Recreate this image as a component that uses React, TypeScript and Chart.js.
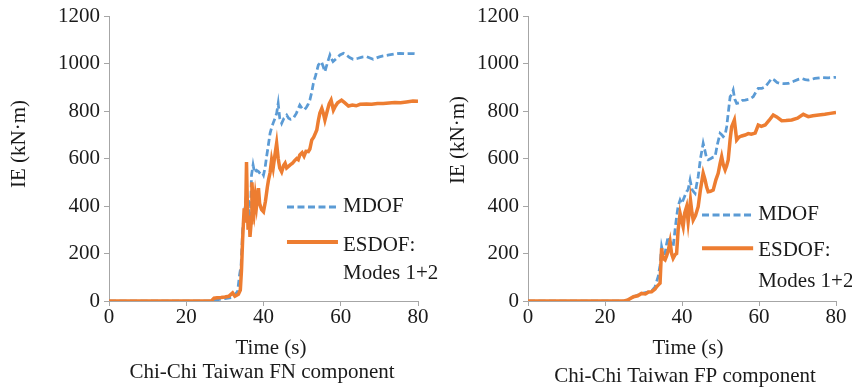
import React, { useEffect, useRef } from "react";
import { Chart, registerables } from "chart.js";

Chart.register(...registerables);

// Axis ticks
const timeTicks = [0, 20, 40, 60, 80];
const ieTicks = [0, 200, 400, 600, 800, 1000, 1200];

// Text
const xTitle = "Time (s)";
const yTitle = "IE (kN\u00b7m)";
const mdofLabel = "MDOF";
const esdofLabel = ["ESDOF:", "Modes 1+2"];
const captions = ["Chi-Chi Taiwan FN component", "Chi-Chi Taiwan FP component"];

// FN component: ESDOF (modes 1+2)
const fnEsdofTime = [0, 26.5, 27.2, 28, 29, 30, 31, 32, 32.6, 33.5, 34, 34.3, 34.6, 34.8, 35, 35.2, 35.4, 35.6, 35.8, 36, 36.3, 36.5, 36.8, 37, 37.3, 37.6, 37.9, 38.2, 38.7, 39, 39.5, 40, 40.5, 41, 41.3, 41.7, 42.1, 42.5, 43, 43.4, 43.8, 44.2, 44.7, 45.2, 45.6, 46, 46.9, 47.5, 48, 48.6, 49, 49.4, 50, 50.5, 51, 51.6, 52, 52.5, 53, 53.8, 54.2, 54.6, 55.1, 55.5, 55.9, 56.5, 57, 57.5, 58.1, 58.6, 59.2, 60.2, 61, 62, 63, 64, 65, 66.7, 68, 69.5, 71, 72.5, 74, 75.5, 77, 78.7, 80];
const fnEsdofIE = [0, 0, 12, 14, 15, 17, 20, 34, 20, 28, 46, 130, 260, 328, 390, 330, 396, 585, 420, 300, 360, 270, 330, 500, 420, 380, 440, 400, 475, 410, 385, 376, 420, 480, 510, 540, 594, 560, 620, 664, 600, 560, 544, 570, 580, 560, 573, 580, 590, 600, 595, 615, 625, 610, 630, 629, 640, 678, 690, 720, 760, 791, 811, 790, 762, 800, 830, 846, 804, 820, 835, 846, 835, 821, 825, 822, 828, 829, 828, 832, 832, 834, 836, 835, 838, 842, 841];

// FN component: MDOF
const fnMdofTime = [0, 27, 28, 30, 32, 33.3, 33.8, 34.2, 34.6, 35, 35.4, 35.8, 36.1, 36.5, 36.9, 37.3, 37.7, 38.2, 38.7, 39.2, 39.7, 40, 40.4, 40.8, 41.2, 41.7, 42.1, 42.5, 43, 43.4, 43.8, 44.2, 44.7, 45.3, 46, 46.5, 47, 47.7, 48.5, 49.4, 50, 50.6, 51.2, 51.6, 52, 52.5, 52.9, 53.5, 54.2, 55, 55.5, 55.9, 56.5, 57.2, 57.6, 58, 58.8, 59.8, 60.7, 61.5, 62.3, 63.2, 64.5, 65.5, 66.7, 68.4, 70, 71, 72.5, 74, 75.3, 77, 78.5, 80];
const fnMdofIE = [0, 0, 5, 10, 15, 40, 110, 150, 300, 360, 420, 380, 425, 300, 530, 573, 540, 550, 545, 535, 540, 530, 560, 608, 650, 706, 730, 749, 770, 790, 832, 770, 748, 770, 783, 770, 765, 769, 790, 825, 810, 805, 818, 830, 846, 880, 916, 950, 994, 1008, 985, 965, 1000, 1036, 1020, 1008, 1020, 1036, 1043, 1035, 1025, 1018, 1022, 1027, 1029, 1018, 1028, 1032, 1036, 1040, 1043, 1041, 1042, 1040];

// FP component: ESDOF (modes 1+2)
const fpEsdofTime = [0, 25, 26, 27.4, 28.5, 29.5, 30.5, 31.3, 32.1, 33, 33.4, 34, 34.3, 34.7, 35.1, 35.6, 36, 36.4, 36.9, 37.3, 37.7, 38.2, 38.6, 39, 39.5, 39.9, 40.3, 40.7, 41.2, 41.6, 42.2, 42.6, 42.9, 43.5, 44.2, 44.8, 45.5, 46, 46.4, 46.8, 47.4, 48.1, 48.8, 49.4, 49.9, 50.3, 50.7, 51.2, 51.6, 52, 52.5, 52.9, 53.3, 53.6, 53.9, 54.2, 54.8, 55.5, 56.4, 57.2, 58, 59, 59.8, 60.6, 61.6, 62.6, 63.7, 64.6, 65.9, 67, 68.5, 70, 71.5, 72.8, 74, 75.5, 77.1, 78.5, 80];
const fpEsdofIE = [0, 0, 5, 18, 22, 32, 30, 38, 39, 50, 60, 70, 75, 222, 180, 173, 190, 210, 250, 200, 180, 195, 200, 300, 369, 340, 313, 370, 397, 334, 425, 370, 341, 360, 397, 470, 538, 510, 480, 460, 462, 467, 510, 538, 580, 608, 575, 552, 570, 594, 680, 734, 750, 762, 720, 678, 690, 695, 699, 705, 702, 707, 741, 735, 741, 760, 783, 775, 759, 760, 762, 770, 786, 776, 780, 783, 786, 790, 794];

// FP component: MDOF
const fpMdofTime = [0, 25, 26, 27.5, 29, 30.5, 32.1, 33, 33.8, 34.3, 34.7, 35.1, 35.6, 36, 36.4, 36.9, 37.3, 37.7, 38.2, 38.6, 39, 39.5, 39.9, 40.3, 40.8, 41.2, 41.6, 42.1, 42.6, 43, 43.4, 43.8, 44.2, 44.8, 45.5, 46, 46.4, 46.8, 47.5, 48, 48.6, 49.2, 49.9, 50.3, 50.7, 51.2, 51.6, 52, 52.5, 52.9, 53.3, 53.7, 54.2, 55, 55.7, 56.4, 57.5, 58.5, 59.2, 59.8, 60.7, 61.6, 62.5, 63.3, 64, 64.7, 65.5, 66.5, 67.6, 69, 70.2, 71.1, 72, 72.8, 74.5, 76.3, 78, 79.3, 80];
const fpMdofIE = [0, 0, 5, 18, 28, 35, 42, 60, 102, 150, 229, 200, 200, 240, 271, 250, 240, 229, 300, 355, 400, 425, 410, 425, 445, 460, 470, 509, 470, 460, 453, 490, 523, 600, 664, 630, 600, 594, 600, 605, 608, 660, 706, 700, 692, 700, 734, 790, 860, 870, 888, 850, 832, 835, 845, 846, 850, 860, 880, 895, 895, 902, 920, 937, 930, 920, 916, 915, 916, 925, 933, 937, 932, 930, 937, 941, 940, 941, 942];

const BLUE = "#5b9bd5";
const ORANGE = "#ed7d31";
const AXIS = "#a6a6a6";
const INK = "#1a1a1a";
const FAMILY = '"Liberation Serif", "Times New Roman", Times, serif';
const FONT_SIZE = 21;
const CANVAS_H = 391;

type PanelSpec = {
  left: number;
  width: number;
  axisWidth: number;
  padRight: number;
  esdofTime: number[];
  esdofIE: number[];
  mdofTime: number[];
  mdofIE: number[];
  caption: string;
  text: {
    yTitleDx: number;
    yTitleFrac: number;
    xTitleDx: number;
    xTitleDy: number;
    captionDx: number;
    captionDy: number;
    keyX0: number;
    keyX1: number;
    keyMdofY: number;
    keyEsdofY: number;
    keyEsdofTextY: number;
    keyModesTextY: number;
  };
};

const panels: PanelSpec[] = [
  {
    left: 0,
    width: 440,
    axisWidth: 109,
    padRight: 22,
    esdofTime: fnEsdofTime,
    esdofIE: fnEsdofIE,
    mdofTime: fnMdofTime,
    mdofIE: fnMdofIE,
    caption: captions[0],
    text: {
      yTitleDx: 89.5,
      yTitleFrac: 0.449,
      xTitleDx: 7.5,
      xTitleDy: 53,
      captionDx: -1.5,
      captionDy: 77,
      keyX0: 0.576,
      keyX1: 0.741,
      keyMdofY: 0.67,
      keyEsdofY: 0.793,
      keyEsdofTextY: 0.804,
      keyModesTextY: 0.902,
    },
  },
  {
    left: 420,
    width: 432,
    axisWidth: 108,
    padRight: 16,
    esdofTime: fpEsdofTime,
    esdofIE: fpEsdofIE,
    mdofTime: fpMdofTime,
    mdofIE: fpMdofIE,
    caption: captions[1],
    text: {
      yTitleDx: 69.5,
      yTitleFrac: 0.435,
      xTitleDx: 6,
      xTitleDy: 53,
      captionDx: 3,
      captionDy: 80.5,
      keyX0: 0.565,
      keyX1: 0.731,
      keyMdofY: 0.698,
      keyEsdofY: 0.815,
      keyEsdofTextY: 0.823,
      keyModesTextY: 0.932,
    },
  },
];

// Axis titles, caption and the in-plot key
const panelText = {
  id: "panelText",
  afterDraw(chart: any, _args: any, opts: any) {
    const { ctx, chartArea: a } = chart;
    const t = opts.text;
    ctx.save();
    ctx.font = `${FONT_SIZE}px ${FAMILY}`;
    ctx.fillStyle = INK;

    // y-axis title
    ctx.save();
    ctx.translate(a.left - t.yTitleDx, a.top + (a.bottom - a.top) * t.yTitleFrac);
    ctx.rotate(-Math.PI / 2);
    ctx.textAlign = "center";
    ctx.textBaseline = "middle";
    ctx.fillText(yTitle, 0, 0);
    ctx.restore();

    // x-axis title and caption
    const cx = (a.left + a.right) / 2;
    ctx.textAlign = "center";
    ctx.textBaseline = "alphabetic";
    ctx.fillText(xTitle, cx + t.xTitleDx, a.bottom + t.xTitleDy);
    ctx.fillText(opts.caption, cx + t.captionDx, a.bottom + t.captionDy);

    // key
    const w = a.right - a.left;
    const h = a.bottom - a.top;
    const x0 = a.left + w * t.keyX0;
    const x1 = a.left + w * t.keyX1;
    const yM = a.top + h * t.keyMdofY;
    const yE = a.top + h * t.keyEsdofY;

    ctx.lineCap = "butt";
    ctx.strokeStyle = BLUE;
    ctx.lineWidth = 3;
    ctx.setLineDash([7, 3.5]);
    ctx.beginPath();
    ctx.moveTo(x0, yM);
    ctx.lineTo(x1, yM);
    ctx.stroke();

    ctx.setLineDash([]);
    ctx.strokeStyle = ORANGE;
    ctx.lineWidth = 4;
    ctx.beginPath();
    ctx.moveTo(x0, yE);
    ctx.lineTo(x1, yE);
    ctx.stroke();

    ctx.textAlign = "left";
    ctx.textBaseline = "middle";
    ctx.fillText(mdofLabel, x1 + 5, yM);
    ctx.fillText(esdofLabel[0], x1 + 5, a.top + h * t.keyEsdofTextY);
    ctx.fillText(esdofLabel[1], x1 + 5, a.top + h * t.keyModesTextY);
    ctx.restore();
  },
};

const toPoints = (xs: number[], ys: number[]) => xs.map((x, i) => ({ x, y: ys[i] }));

const tickFont = { family: FAMILY, size: FONT_SIZE, lineHeight: 1 };
const plainNumber = (v: any) => String(v);

function Panel({ spec }: { spec: PanelSpec }) {
  const ref = useRef<HTMLCanvasElement | null>(null);

  useEffect(() => {
    if (!ref.current) return;
    const chart = new Chart(ref.current, {
      type: "line",
      data: {
        datasets: [
          {
            label: esdofLabel.join(" "),
            data: toPoints(spec.esdofTime, spec.esdofIE),
            borderColor: ORANGE,
            borderWidth: 3.5,
            pointRadius: 0,
            tension: 0,
            fill: false,
          },
          {
            label: mdofLabel,
            data: toPoints(spec.mdofTime, spec.mdofIE),
            borderColor: BLUE,
            borderWidth: 2.75,
            borderDash: [7, 3.5],
            pointRadius: 0,
            tension: 0,
            fill: false,
          },
        ],
      },
      options: {
        animation: false,
        responsive: false,
        devicePixelRatio: 1,
        layout: { padding: { left: 0, top: 16, right: spec.padRight, bottom: 0 } },
        plugins: {
          legend: { display: false },
          tooltip: { enabled: false },
          panelText: { text: spec.text, caption: spec.caption },
        } as any,
        scales: {
          x: {
            type: "linear",
            min: timeTicks[0],
            max: timeTicks[timeTicks.length - 1],
            afterBuildTicks: (s: any) => {
              s.ticks = timeTicks.map((value) => ({ value }));
            },
            afterFit: (s: any) => {
              s.height = CANVAS_H - 301;
            },
            grid: { display: true, drawOnChartArea: false, drawTicks: true, tickLength: 5, color: AXIS },
            border: { display: true, color: AXIS, width: 1 },
            ticks: { font: tickFont, color: INK, padding: 1, maxRotation: 0, autoSkip: false, callback: plainNumber },
          },
          y: {
            type: "linear",
            min: ieTicks[0],
            max: ieTicks[ieTicks.length - 1],
            afterBuildTicks: (s: any) => {
              s.ticks = ieTicks.map((value) => ({ value }));
            },
            afterFit: (s: any) => {
              s.width = spec.axisWidth;
            },
            grid: { display: true, drawOnChartArea: false, drawTicks: true, tickLength: 5, color: AXIS },
            border: { display: true, color: AXIS, width: 1 },
            ticks: { font: tickFont, color: INK, padding: 4, autoSkip: false, callback: plainNumber },
          },
        },
      },
      plugins: [panelText],
    });
    return () => chart.destroy();
  }, [spec]);

  return (
    <canvas
      ref={ref}
      width={spec.width}
      height={CANVAS_H}
      style={{ position: "absolute", left: spec.left, top: 0, width: spec.width, height: CANVAS_H }}
    />
  );
}

export default function App() {
  return (
    <div style={{ position: "absolute", left: 0, top: 0, width: 852, height: CANVAS_H, background: "#fff", overflow: "hidden" }}>
      {panels.map((p, i) => (
        <Panel key={i} spec={p} />
      ))}
    </div>
  );
}
